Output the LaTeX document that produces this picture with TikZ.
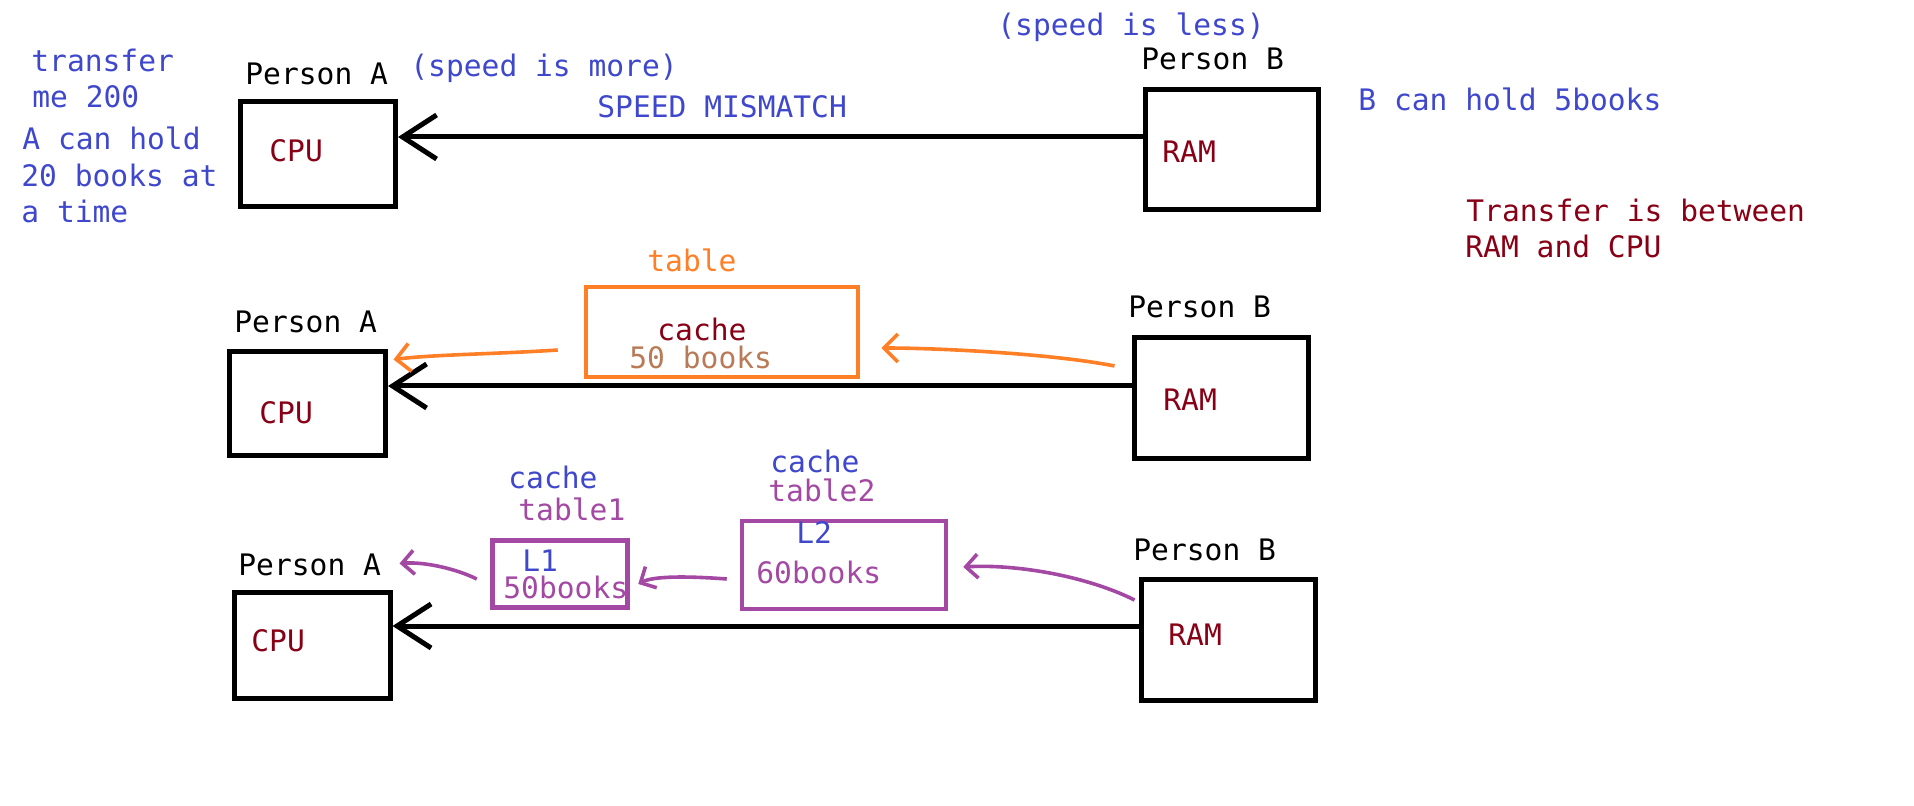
\documentclass[tikz,border=0pt]{standalone}
\usepackage{fontspec}
\usepackage{tikz}
\usetikzlibrary{positioning, arrows.meta}
\newfontfamily\paintfont{DejaVu Sans Mono}
\definecolor{paintBlue}{HTML}{3F48CC}
\definecolor{paintRed}{HTML}{880015}
\definecolor{paintOrange}{HTML}{FF7F27}
\definecolor{paintBrown}{HTML}{B97A57}
\definecolor{paintPurple}{HTML}{A349A4}
\tikzstyle{box}=[rectangle, draw=black, line width=2.5pt, inner sep=0pt]
\tikzstyle{cacheBox}=[box, draw=paintOrange, line width=2.25pt]
\tikzstyle{levelBox}=[box, draw=paintPurple, line width=2.25pt]
\tikzstyle{txt}=[inner sep=0pt, anchor=base west, font=\paintfont\fontsize{14.8pt}{17pt}\selectfont]
\tikzstyle{blueTxt}=[txt, text=paintBlue]
\tikzstyle{redTxt}=[txt, text=paintRed]
\tikzstyle{busArrow}=[-{Straight Barb[length=17pt,width=22pt]}, line width=2.5pt, draw=black]
\tikzstyle{orangeArrow}=[-{Straight Barb[length=7pt,width=14pt]}, line width=1.8pt, draw=paintOrange]
\tikzstyle{purpleArrow}=[-{Straight Barb[length=6pt,width=12pt]}, line width=1.8pt, draw=paintPurple]

\begin{document}
\begin{tikzpicture}[x=0.5pt, y=-0.5pt]
  \useasboundingbox (0,0) rectangle (1914,806);
  % first row: no cache
  \node(cpuA) [box, minimum width=77.5pt, minimum height=52.5pt] at (318,154) {};
  \node(ramA) [box, minimum width=86.5pt, minimum height=60pt] at (1232,150) {};
  \node(cpuAtxt) [redTxt] at (269,162) {CPU};
  \node(ramAtxt) [redTxt] at (1162,163) {RAM};
  \node(personAa) [txt] at (245,85) {Person A};
  \node(personBa) [txt] at (1141,70) {Person B};
  \node(speedMore) [blueTxt] at (410,77) {(speed is more)};
  \node(speedLess) [blueTxt] at (997,36) {(speed is less)};
  \node(mismatch) [blueTxt] at (597,118) {SPEED MISMATCH};
  \node(noteA) [blueTxt] at (31,72) {transfer};
  \node(noteB) [blueTxt] at (32,108) {me 200};
  \node(noteC) [blueTxt] at (22,150) {A can hold};
  \node(noteD) [blueTxt] at (21,187) {20 books at};
  \node(noteE) [blueTxt] at (21,223) {a time};
  \node(holdB) [blueTxt] at (1358,111) {B can hold 5books};
  \node(between) [redTxt] at (1466,222) {Transfer is between};
  \node(ramCpu) [redTxt] at (1465,258) {RAM and CPU};
  \coordinate(rA) at ([yshift=6.5pt]ramA.west);
  \draw [busArrow] (rA) -- (rA -| cpuA.east);

  % second row: one cache table
  \node(cpuB) [box, minimum width=78pt, minimum height=52pt] at (307.5,403.5) {};
  \node(ramB) [box, minimum width=87pt, minimum height=60.5pt] at (1221.5,398) {};
  \node(cacheT) [cacheBox, minimum width=136pt, minimum height=45pt] at (722,332) {};
  \node(cpuBtxt) [redTxt] at (259,423) {CPU};
  \node(ramBtxt) [redTxt] at (1163,411) {RAM};
  \node(personAb) [txt] at (234,333) {Person A};
  \node(personBb) [txt] at (1128,318) {Person B};
  \node(tableTxt) [txt, text=paintOrange] at (647,272) {table};
  \node(cacheTxt) [redTxt] at (657,341) {cache};
  \node(booksT) [txt, text=paintBrown] at (629,369) {50 books};
  \coordinate(rB) at ([yshift=6pt]ramB.west);
  \draw [busArrow] (rB) -- (rB -| cpuB.east);
  \draw [orangeArrow] ([xshift=-13pt,yshift=-9pt]cacheT.west) .. controls +(-60,4) and +(40,-5) .. ([xshift=2.75pt,yshift=-5.25pt]cpuB.north east);
  \draw [orangeArrow] ([xshift=-8.75pt,yshift=16pt]ramB.west) .. controls +(-60,-12) and +(60,0) .. ([xshift=10.5pt,yshift=-8pt]cacheT.east);

  % third row: L1 and L2
  \node(cpuC) [box, minimum width=78pt, minimum height=53pt] at (312,645) {};
  \node(ramC) [box, minimum width=87pt, minimum height=60.5pt] at (1228,640) {};
  \node(tableOne) [levelBox, minimum width=67.5pt, minimum height=33.5pt] at (560,574) {};
  \node(tableTwo) [levelBox, minimum width=102pt, minimum height=44pt] at (844,565) {};
  \node(cpuCtxt) [redTxt] at (251,651) {CPU};
  \node(ramCtxt) [redTxt] at (1168,645) {RAM};
  \node(personAc) [txt] at (238,575) {Person A};
  \node(personBc) [txt] at (1133,560) {Person B};
  \node(cacheOne) [blueTxt] at (508,488) {cache};
  \node(tableOneTxt) [txt, text=paintPurple] at (518,520) {table1};
  \node(lOne) [blueTxt] at (522,571) {L1};
  \node(booksOne) [txt, text=paintPurple] at (503,598) {50books};
  \node(cacheTwo) [blueTxt] at (770,473) {cache};
  \node(tableTwoTxt) [txt, text=paintPurple] at (768,501) {table2};
  \node(lTwo) [blueTxt] at (796,543) {L2};
  \node(booksTwo) [txt, text=paintPurple] at (756,583) {60books};
  \coordinate(rC) at ([yshift=7pt]ramC.west);
  \draw [busArrow] (rC) -- (rC -| cpuC.east);
  \draw [purpleArrow] ([xshift=-6.75pt,yshift=-2.5pt]tableOne.west) .. controls +(-20,-10) and +(25,-2) .. ([xshift=3.5pt,yshift=13pt]cpuC.north east);
  \draw [purpleArrow] ([xshift=-6.5pt,yshift=-7pt]tableTwo.west) .. controls +(-40,-3) and +(15,-8) .. ([xshift=4.25pt,yshift=-5pt]tableOne.east);
  \draw [purpleArrow] ([xshift=-2pt,yshift=20pt]ramC.west) .. controls +(-50,-25) and +(50,-3) .. ([xshift=7.5pt,yshift=-1pt]tableTwo.east);
\end{tikzpicture}
\end{document}
